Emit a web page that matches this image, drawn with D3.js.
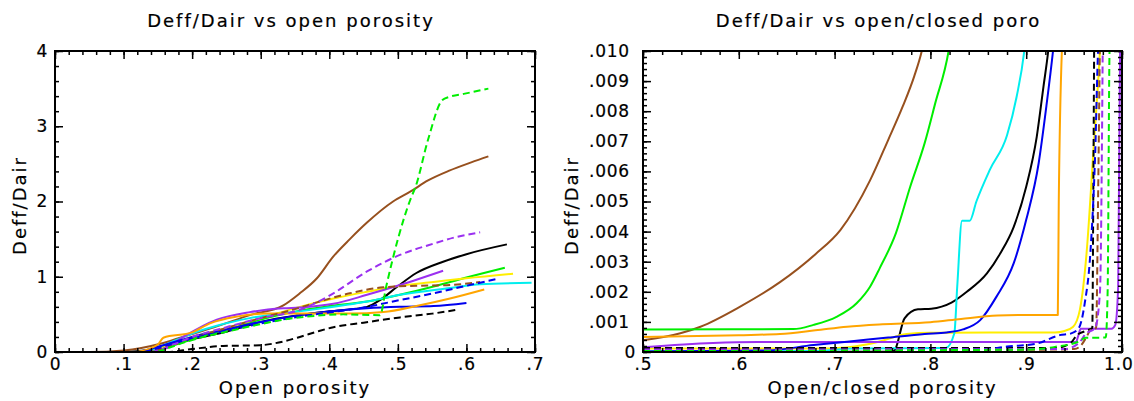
<!DOCTYPE html>
<html><head><meta charset="utf-8">
<script src="https://cdn.jsdelivr.net/npm/d3@7"></script>
<style>
html,body{margin:0;padding:0;background:#fff;}
svg{display:block;}
text{font-family:"DejaVu Sans",sans-serif;fill:#000;stroke:#000;stroke-width:0.2px;}
</style></head><body>
<svg id="chart" width="1134" height="401"></svg>
<script>
// ---------- tick values / labels ----------
const leftXTicks = [0, 0.1, 0.2, 0.3, 0.4, 0.5, 0.6, 0.7];
const leftXLabels = ["0", ".1", ".2", ".3", ".4", ".5", ".6", ".7"];
const leftYTicks = [0, 1, 2, 3, 4];
const leftYLabels = ["0", "1", "2", "3", "4"];
const rightXTicks = [0.5, 0.6, 0.7, 0.8, 0.9, 1.0];
const rightXLabels = [".5", ".6", ".7", ".8", ".9", "1.0"];
const rightYTicks = [0, 0.001, 0.002, 0.003, 0.004, 0.005, 0.006, 0.007, 0.008, 0.009, 0.010];
const rightYLabels = ["0", ".001", ".002", ".003", ".004", ".005", ".006", ".007", ".008", ".009", ".010"];

const titles = ["Deff/Dair vs open porosity", "Deff/Dair vs open/closed poro"];
const xTitles = ["Open porosity", "Open/closed porosity"];
const yTitles = ["Deff/Dair", "Deff/Dair"];

// ---------- series (left: open porosity vs Deff/Dair) ----------
const brownL = [[0,0],[0.05,0],[0.1,0.02],[0.158,0.12],[0.2,0.24],[0.236,0.34],[0.284,0.49],[0.333,0.62],[0.357,0.78],[0.382,0.98],[0.406,1.27],[0.43,1.5],[0.455,1.72],[0.493,2.0],[0.518,2.13],[0.544,2.28],[0.575,2.41],[0.607,2.52],[0.632,2.6]];
const blackL = [[0,0],[0.1,0],[0.15,0.05],[0.2,0.17],[0.25,0.27],[0.3,0.4],[0.357,0.49],[0.4,0.54],[0.455,0.6],[0.474,0.69],[0.498,0.86],[0.527,1.05],[0.566,1.2],[0.6,1.3],[0.659,1.43]];
const greenL = [[0,0],[0.12,0],[0.15,0.03],[0.2,0.17],[0.25,0.3],[0.3,0.43],[0.357,0.55],[0.4,0.61],[0.455,0.67],[0.503,0.76],[0.552,0.87],[0.6,0.99],[0.656,1.12]];
const yellowL = [[0.12,0],[0.15,0.05],[0.2,0.2],[0.25,0.32],[0.3,0.45],[0.357,0.6],[0.406,0.71],[0.455,0.8],[0.503,0.88],[0.552,0.93],[0.6,0.98],[0.668,1.04]];
const cyanL = [[0.129,0],[0.153,0.07],[0.177,0.16],[0.207,0.27],[0.236,0.35],[0.284,0.45],[0.357,0.54],[0.455,0.67],[0.503,0.76],[0.576,0.85],[0.62,0.9],[0.695,0.92]];
const purpleL = [[0.13,0],[0.143,-0.01],[0.158,0.03],[0.187,0.2],[0.236,0.43],[0.284,0.53],[0.333,0.58],[0.357,0.59],[0.406,0.64],[0.455,0.76],[0.503,0.89],[0.566,1.08]];
const blueL = [[0,0],[0.12,0],[0.15,0.07],[0.2,0.2],[0.25,0.3],[0.3,0.4],[0.357,0.49],[0.455,0.58],[0.503,0.6],[0.552,0.61],[0.6,0.65]];
const orangeL = [[0.12,0],[0.15,0.1],[0.158,0.19],[0.2,0.26],[0.226,0.38],[0.265,0.47],[0.309,0.51],[0.357,0.51],[0.43,0.51],[0.479,0.53],[0.527,0.61],[0.576,0.71],[0.626,0.83]];
const blackDashL = [[0.13,0],[0.163,0],[0.2,0.04],[0.245,0.08],[0.299,0.09],[0.333,0.14],[0.357,0.2],[0.382,0.27],[0.406,0.33],[0.45,0.39],[0.503,0.46],[0.55,0.51],[0.586,0.56]];
const brownDashL = [[0.13,0],[0.15,0.03],[0.2,0.18],[0.25,0.32],[0.3,0.45],[0.35,0.57],[0.382,0.66],[0.43,0.78],[0.479,0.86],[0.527,0.88],[0.576,0.89],[0.62,0.93]];
const blueDashL = [[0.13,0],[0.15,0.05],[0.2,0.18],[0.25,0.28],[0.3,0.38],[0.357,0.47],[0.455,0.6],[0.503,0.69],[0.552,0.78],[0.6,0.88],[0.644,0.97]];
const purpleDashL = [[0.14,0],[0.15,0.02],[0.2,0.2],[0.25,0.33],[0.3,0.45],[0.357,0.56],[0.38,0.65],[0.406,0.78],[0.455,1.07],[0.503,1.29],[0.552,1.44],[0.586,1.53],[0.62,1.59]];
const greenDashL = [[0.15,0],[0.2,0.16],[0.25,0.27],[0.3,0.37],[0.333,0.43],[0.367,0.47],[0.42,0.5],[0.474,0.49],[0.483,0.87],[0.518,2.02],[0.526,2.2],[0.544,2.82],[0.565,3.35],[0.575,3.39],[0.596,3.43],[0.632,3.5]];

// ---------- series (right: open/closed porosity vs Deff/Dair) ----------
const brownR = [[0.5,0.00039],[0.539,0.00062],[0.56,0.00084],[0.601,0.0015],[0.643,0.00232],[0.68,0.00325],[0.706,0.00405],[0.737,0.0057],[0.756,0.00705],[0.771,0.00815],[0.783,0.00915],[0.791,0.01],[0.795,0.0106]];
const greenR = [[0.5,0.00075],[0.657,0.00076],[0.678,0.0009],[0.702,0.00117],[0.723,0.00162],[0.737,0.00217],[0.747,0.00278],[0.764,0.00395],[0.779,0.0055],[0.794,0.00694],[0.805,0.00826],[0.819,0.01],[0.822,0.0106]];
const orangeR = [[0.5,0.0005],[0.6,0.00056],[0.643,0.0006],[0.68,0.00072],[0.713,0.00084],[0.75,0.00092],[0.8,0.00099],[0.832,0.0011],[0.87,0.00121],[0.9,0.00123],[0.933,0.00123],[0.934,0.005],[0.938,0.0106]];
const cyanR = [[0.5,0.00002],[0.68,0.00003],[0.72,0.00012],[0.816,0.00013],[0.825,0.00062],[0.828,0.00217],[0.833,0.00436],[0.841,0.00436],[0.848,0.005],[0.862,0.00605],[0.88,0.0072],[0.89,0.00848],[0.898,0.01],[0.9,0.0106]];
const blackR = [[0.5,0.00001],[0.76,0.00001],[0.763,0.00007],[0.773,0.00112],[0.787,0.00142],[0.801,0.00144],[0.822,0.00164],[0.838,0.002],[0.859,0.00261],[0.873,0.00328],[0.887,0.00416],[0.9,0.00549],[0.911,0.00715],[0.918,0.00881],[0.923,0.01],[0.925,0.0106]];
const blueR = [[0.5,0.00002],[0.63,0.00005],[0.678,0.00023],[0.713,0.00034],[0.756,0.00048],[0.794,0.0006],[0.817,0.00065],[0.834,0.00075],[0.852,0.00106],[0.869,0.00184],[0.887,0.00295],[0.9,0.00439],[0.913,0.00627],[0.921,0.00815],[0.928,0.01],[0.93,0.0106]];
const yellowR = [[0.5,0.00012],[0.695,0.00012],[0.73,0.00023],[0.747,0.00035],[0.775,0.0006],[0.8,0.00064],[0.93,0.00065],[0.94,0.0007],[0.949,0.00084],[0.956,0.0014],[0.963,0.00328],[0.97,0.0066],[0.977,0.01],[0.978,0.0106]];
const purpleR = [[0.5,0.00016],[0.573,0.0003],[0.62,0.00033],[0.952,0.00033],[0.954,0.0005],[0.957,0.00077],[0.989,0.00077],[0.993,0.0009],[0.996,0.00217],[0.998,0.01],[0.999,0.0106]];
const blueDashR = [[0.5,0.00005],[0.8,0.00008],[0.86,0.0001],[0.88,0.00018],[0.911,0.00028],[0.935,0.00056],[0.947,0.00062],[0.955,0.0008],[0.961,0.0016],[0.967,0.0033],[0.972,0.0066],[0.975,0.01],[0.976,0.0106]];
const blackDashR = [[0.5,0.00013],[0.93,0.00013],[0.946,0.00029],[0.953,0.00056],[0.962,0.0007],[0.969,0.0008],[0.97,0.005],[0.971,0.0106]];
const brownDashR = [[0.5,0.00005],[0.93,0.00008],[0.95,0.0001],[0.956,0.00018],[0.963,0.0005],[0.967,0.00073],[0.973,0.0008],[0.975,0.005],[0.977,0.0106]];
const purpleDashR = [[0.5,0.00008],[0.94,0.0001],[0.955,0.0003],[0.962,0.0006],[0.972,0.0008],[0.977,0.002],[0.98,0.0106]];
const greenDashR = [[0.5,0.00003],[0.9,0.00008],[0.93,0.00017],[0.955,0.00035],[0.962,0.00047],[0.983,0.00048],[0.985,0.002],[0.987,0.01],[0.988,0.0106]];

// ---------- styles ----------
const seriesNames = ["brown","black","green","yellow","cyan","purple","blue","orange","blackDash","brownDash","blueDash","purpleDash","greenDash"];
const seriesColors = ["#97501e","#000000","#00ee00","#ffee00","#00eeee","#9b30f0","#0000ee","#ffa500","#000000","#97501e","#0000ee","#9b30f0","#00ee00"];
const seriesDashed = [false,false,false,false,false,false,false,false,true,true,true,true,true];
const leftSeries = [brownL,blackL,greenL,yellowL,cyanL,purpleL,blueL,orangeL,blackDashL,brownDashL,blueDashL,purpleDashL,greenDashL];
const rightSeries = [brownR,blackR,greenR,yellowR,cyanR,purpleR,blueR,orangeR,blackDashR,brownDashR,blueDashR,purpleDashR,greenDashR];

const svg = d3.select("#chart");

function panel(cfg) {
  const x = d3.scaleLinear().domain(cfg.xDomain).range([cfg.left, cfg.right]);
  const y = d3.scaleLinear().domain(cfg.yDomain).range([cfg.bottom, cfg.top]);
  const g = svg.append("g");
  const clipId = "clip" + cfg.id;
  svg.append("defs").append("clipPath").attr("id", clipId)
    .append("rect").attr("x", cfg.left).attr("y", cfg.top)
    .attr("width", cfg.right - cfg.left).attr("height", cfg.bottom - cfg.top);

  const line = d3.line().x(d => x(d[0])).y(d => y(d[1])).curve(d3.curveMonotoneX);
  const lg = g.append("g").attr("clip-path", `url(#${clipId})`);
  cfg.series.forEach((s, i) => {
    lg.append("path").datum(s)
      .attr("d", line)
      .attr("fill", "none")
      .attr("stroke", seriesColors[i])
      .attr("stroke-width", 2)
      .attr("stroke-linejoin", "round")
      .attr("stroke-dasharray", seriesDashed[i] ? "7,4" : null);
  });

  const minorX = d3.range(cfg.xDomain[0], cfg.xDomain[1] + 1e-9, cfg.xMinorStep);
  const minorY = d3.range(cfg.yDomain[0], cfg.yDomain[1] + 1e-12, cfg.yMinorStep);

  function styleAxis(sel) {
    sel.select(".domain").remove();
    sel.selectAll("line").attr("stroke", "#000").attr("stroke-width", 1.5);
    sel.selectAll("text").style("font-size", "17px").style("letter-spacing", "0.8px")
      .attr("font-family", "DejaVu Sans").attr("fill", "#000");
  }
  // bottom
  g.append("g").attr("transform", `translate(0,${cfg.bottom})`)
    .call(d3.axisBottom(x).tickValues(minorX).tickSize(-4).tickFormat("")).call(styleAxis);
  const bx = g.append("g").attr("transform", `translate(0,${cfg.bottom})`)
    .call(d3.axisBottom(x).tickValues(cfg.xTicks).tickSize(-8).tickPadding(6)
      .tickFormat((d, i) => cfg.xLabels[i])).call(styleAxis);
  bx.selectAll("text").filter(function() { return this.textContent === "1.0"; })
    .attr("text-anchor", "end").attr("x", 11);
  // top
  g.append("g").attr("transform", `translate(0,${cfg.top})`)
    .call(d3.axisTop(x).tickValues(minorX).tickSize(-4).tickFormat("")).call(styleAxis);
  g.append("g").attr("transform", `translate(0,${cfg.top})`)
    .call(d3.axisTop(x).tickValues(cfg.xTicks).tickSize(-8).tickFormat("")).call(styleAxis);
  // left
  g.append("g").attr("transform", `translate(${cfg.left},0)`)
    .call(d3.axisLeft(y).tickValues(minorY).tickSize(-4).tickFormat("")).call(styleAxis);
  const ly = g.append("g").attr("transform", `translate(${cfg.left},0)`)
    .call(d3.axisLeft(y).tickValues(cfg.yTicks).tickSize(-8).tickPadding(cfg.yGap)
      .tickFormat((d, i) => cfg.yLabels[i])).call(styleAxis);
  ly.selectAll("text").filter(function() { return this.textContent === "0"; }).attr("x", -cfg.zeroGap);
  // right
  g.append("g").attr("transform", `translate(${cfg.right},0)`)
    .call(d3.axisRight(y).tickValues(minorY).tickSize(-4).tickFormat("")).call(styleAxis);
  g.append("g").attr("transform", `translate(${cfg.right},0)`)
    .call(d3.axisRight(y).tickValues(cfg.yTicks).tickSize(-8).tickFormat("")).call(styleAxis);

  // frame
  g.append("rect").attr("x", cfg.left).attr("y", cfg.top)
    .attr("width", cfg.right - cfg.left).attr("height", cfg.bottom - cfg.top)
    .attr("fill", "none").attr("stroke", "#000").attr("stroke-width", 2);

  const cx = (cfg.left + cfg.right) / 2;
  g.append("text").attr("x", cx - 4).attr("y", 27).attr("text-anchor", "middle")
    .style("font-size", "18px").style("letter-spacing", "2px").text(cfg.title);
  g.append("text").attr("x", cx).attr("y", 394).attr("text-anchor", "middle")
    .style("font-size", "18px").style("letter-spacing", "2px").text(cfg.xTitle);
  g.append("text").attr("transform", `translate(${cfg.yTitleX},${(cfg.top + cfg.bottom) / 2 + 4}) rotate(-90)`)
    .attr("text-anchor", "middle").style("font-size", "18px").style("letter-spacing", "2px")
    .text(cfg.yTitle);
}

panel({
  id: "L", left: 55, right: 535, top: 51, bottom: 352,
  xDomain: [0, 0.7], yDomain: [0, 4], xMinorStep: 0.02, yMinorStep: 0.2,
  xTicks: leftXTicks, xLabels: leftXLabels, yTicks: leftYTicks, yLabels: leftYLabels,
  yGap: 7, zeroGap: 7, series: leftSeries,
  title: titles[0], xTitle: xTitles[0], yTitle: yTitles[0], yTitleX: 26
});
panel({
  id: "R", left: 643, right: 1122, top: 51, bottom: 352,
  xDomain: [0.5, 1.0], yDomain: [0, 0.01], xMinorStep: 0.02, yMinorStep: 0.0002,
  xTicks: rightXTicks, xLabels: rightXLabels, yTicks: rightYTicks, yLabels: rightYLabels,
  yGap: 13, zeroGap: 7, series: rightSeries,
  title: titles[1], xTitle: xTitles[1], yTitle: yTitles[1], yTitleX: 578
});
</script>
</body></html>
